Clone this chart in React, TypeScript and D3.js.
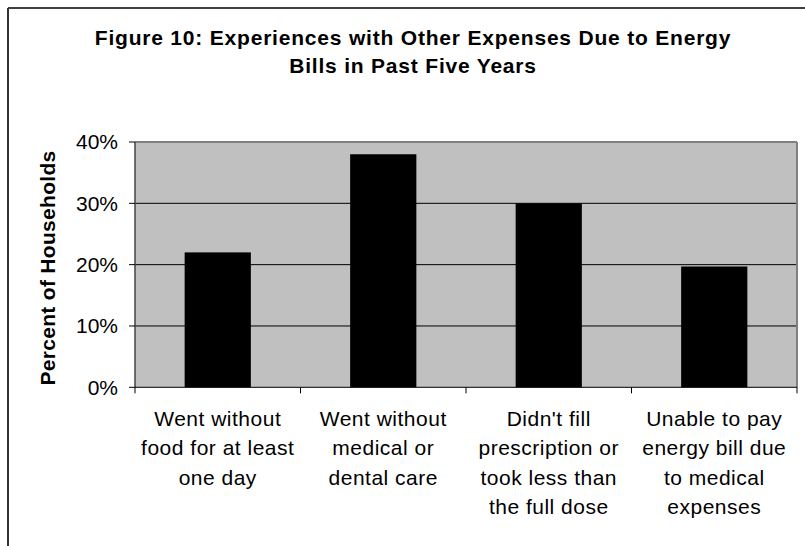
import React from "react";
import * as d3 from "d3";

const titleLines = ["Figure 10: Experiences with Other Expenses Due to Energy", "Bills in Past Five Years"];
const yAxisTitle = "Percent of Households";
const categories = [
  ["Went without", "food for at least", "one day"],
  ["Went without", "medical or", "dental care"],
  ["Didn't fill", "prescription or", "took less than", "the full dose"],
  ["Unable to pay", "energy bill due", "to medical", "expenses"],
];
const values = [22, 38, 30, 19.7];
const yTicks = [0, 10, 20, 30, 40];

const W = 805;
const H = 546;
const plot = { left: 135, right: 797, top: 142, bottom: 387.3 };
const FONT = "Arial, 'Liberation Sans', Helvetica, sans-serif";

export default function App() {
  const keys = categories.map((_, i) => String(i));
  const x = d3.scaleBand<string>().domain(keys).range([plot.left, plot.right]).paddingInner(0.6).paddingOuter(0.3);
  const xb = d3.scaleBand<string>().domain(keys).range([plot.left, plot.right]);
  const y = d3.scaleLinear().domain([0, 40]).range([plot.bottom, plot.top]);

  return (
    <svg width={W} height={H} style={{ position: "absolute", left: 0, top: 0, display: "block", background: "#fff" }} fontFamily={FONT}>
      {/* outer frame */}
      <line x1={8} y1={8} x2={W} y2={8} stroke="#000" strokeWidth={1.5} />
      <line x1={8} y1={8} x2={8} y2={H} stroke="#333" strokeWidth={2} />

      {/* title */}
      <text textAnchor="middle" fontWeight="bold" fontSize={21} letterSpacing={0.8} fill="#000">
        {titleLines.map((t, i) => (
          <tspan key={i} x={413} y={45 + i * 28}>{t}</tspan>
        ))}
      </text>

      {/* plot background */}
      <rect x={plot.left} y={plot.top} width={plot.right - plot.left} height={plot.bottom - plot.top} fill="#C0C0C0" />
      {/* gridlines */}
      {yTicks.filter((t) => t > 0 && t < 40).map((t) => (
        <line key={t} x1={plot.left} x2={plot.right} y1={y(t)} y2={y(t)} stroke="#000" strokeWidth={1} />
      ))}
      {/* plot border top/right */}
      <line x1={plot.left} x2={plot.right} y1={plot.top} y2={plot.top} stroke="#808080" strokeWidth={2} />
      <line x1={plot.right} x2={plot.right} y1={plot.top} y2={plot.bottom} stroke="#808080" strokeWidth={2} />

      {/* bars */}
      {values.map((v, i) => (
        <rect key={i} x={x(String(i))} y={y(v)} width={x.bandwidth()} height={plot.bottom - y(v)} fill="#000" />
      ))}

      {/* y axis */}
      <line x1={plot.left} x2={plot.left} y1={plot.top} y2={plot.bottom} stroke="#444" strokeWidth={1.5} />
      {yTicks.map((t) => (
        <g key={t}>
          <line x1={plot.left - 6} x2={plot.left} y1={y(t)} y2={y(t)} stroke="#000" strokeWidth={1} />
          <text x={118} y={y(t)} dy="0.35em" textAnchor="end" fontSize={21} fill="#000">{`${t}%`}</text>
        </g>
      ))}
      <text transform={`translate(55,268) rotate(-90)`} textAnchor="middle" fontWeight="bold" fontSize={21} letterSpacing={0.3} fill="#000">
        {yAxisTitle}
      </text>

      {/* x axis */}
      <line x1={plot.left} x2={plot.right} y1={plot.bottom} y2={plot.bottom} stroke="#000" strokeWidth={1} />
      {[...keys.map((k) => xb(k) as number), plot.right].map((px, i) => (
        <line key={i} x1={px} x2={px} y1={plot.bottom} y2={plot.bottom + 6} stroke="#000" strokeWidth={1} />
      ))}
      {categories.map((lines, i) => (
        <text key={i} textAnchor="middle" fontSize={21} letterSpacing={0.5} fill="#000">
          {lines.map((l, j) => (
            <tspan key={j} x={(xb(String(i)) as number) + xb.bandwidth() / 2} y={425.5 + j * 29.5}>{l}</tspan>
          ))}
        </text>
      ))}
    </svg>
  );
}
